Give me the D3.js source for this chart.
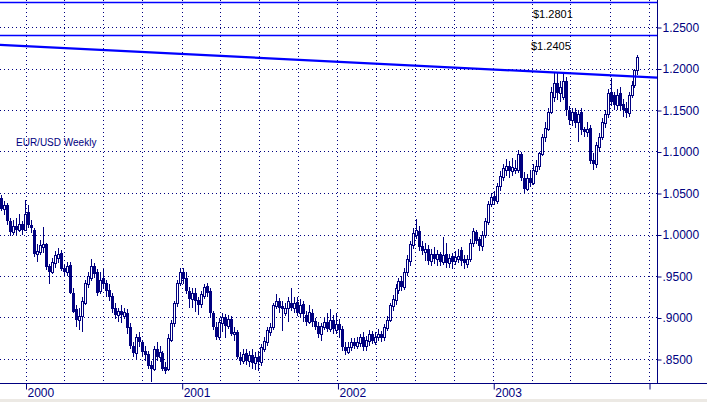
<!DOCTYPE html>
<html><head><meta charset="utf-8">
<script src="https://cdn.jsdelivr.net/npm/d3@7"></script>
<style>
html,body{margin:0;padding:0;background:#fff;}
svg{display:block;}
text{font-family:"Liberation Sans",Arial,sans-serif;}
</style></head>
<body>
<svg id="chart" width="707" height="402"></svg>
<script>
// ---- data (EUR/USD weekly, first week ending 1999-11-05) ----
const firstWeek = "1999-11-05";
const open = [
1.044,1.031,1.036,1.016,1.003,1.010,1.005,1.013,1.006,1.027,1.012,1.006,0.977,0.979,0.985,0.988,0.962,0.955,0.966,0.972,
0.978,0.960,0.955,0.963,0.930,0.910,0.897,0.902,0.918,0.940,0.948,0.962,0.955,0.932,0.948,0.942,0.933,0.926,0.912,0.903,
0.908,0.902,0.906,0.888,0.866,0.857,0.877,0.870,0.860,0.856,0.843,0.838,0.862,0.852,0.857,0.840,0.838,0.873,0.893,0.917,
0.942,0.955,0.948,0.932,0.922,0.930,0.921,0.916,0.926,0.938,0.932,0.905,0.889,0.877,0.893,0.900,0.890,0.898,0.880,0.882,
0.853,0.848,0.857,0.847,0.855,0.845,0.852,0.846,0.862,0.870,0.883,0.888,0.914,0.920,0.914,0.906,0.911,0.918,0.912,0.919,
0.906,0.916,0.903,0.895,0.905,0.896,0.890,0.880,0.889,0.895,0.886,0.897,0.885,0.892,0.886,0.865,0.859,0.864,0.870,0.866,
0.869,0.877,0.866,0.872,0.880,0.871,0.876,0.880,0.876,0.887,0.897,0.914,0.921,0.933,0.944,0.937,0.955,0.968,0.987,1.000,
1.004,0.986,0.979,0.983,0.968,0.977,0.970,0.976,0.967,0.976,0.966,0.974,0.968,0.971,0.981,0.970,0.965,0.970,0.990,1.003,
0.994,0.986,1.000,1.015,1.037,1.046,1.040,1.058,1.069,1.078,1.082,1.076,1.078,1.078,1.097,1.068,1.055,1.068,1.062,1.076,
1.082,1.097,1.118,1.127,1.148,1.166,1.182,1.170,1.166,1.185,1.150,1.138,1.148,1.135,1.148,1.127,1.124,1.128,1.090,1.085,
1.106,1.118,1.134,1.145,1.172,1.168,1.156,1.170,1.157,1.153,1.146,1.168,1.180,1.198];
const high = [
1.047,1.040,1.038,1.020,1.018,1.020,1.025,1.016,1.041,1.036,1.018,1.008,0.988,0.993,1.009,0.990,0.965,0.972,0.980,0.984,
0.981,0.965,0.967,0.967,0.935,0.915,0.912,0.925,0.945,0.955,0.970,0.966,0.958,0.955,0.960,0.945,0.940,0.930,0.918,0.912,
0.915,0.912,0.910,0.893,0.870,0.880,0.882,0.873,0.866,0.860,0.848,0.866,0.870,0.866,0.860,0.846,0.880,0.897,0.920,0.945,
0.960,0.960,0.955,0.937,0.935,0.935,0.925,0.932,0.940,0.942,0.935,0.908,0.894,0.900,0.905,0.904,0.903,0.902,0.888,0.885,
0.858,0.862,0.862,0.860,0.862,0.858,0.860,0.868,0.876,0.888,0.893,0.918,0.928,0.924,0.920,0.918,0.925,0.935,0.925,0.925,
0.922,0.920,0.908,0.915,0.910,0.900,0.895,0.893,0.900,0.905,0.910,0.903,0.906,0.898,0.890,0.870,0.870,0.875,0.875,0.876,
0.880,0.882,0.878,0.885,0.884,0.882,0.886,0.884,0.892,0.902,0.918,0.927,0.940,0.948,0.950,0.960,0.975,0.992,1.008,1.019,
1.010,0.992,0.990,0.987,0.982,0.985,0.981,0.979,0.997,0.990,0.977,0.978,0.980,0.983,0.985,0.975,0.975,0.994,1.008,1.006,
0.997,1.004,1.020,1.040,1.050,1.052,1.062,1.076,1.085,1.091,1.088,1.092,1.090,1.102,1.099,1.075,1.073,1.078,1.085,1.090,
1.100,1.121,1.135,1.152,1.178,1.195,1.194,1.185,1.193,1.190,1.155,1.152,1.152,1.150,1.152,1.130,1.135,1.132,1.098,1.112,
1.122,1.140,1.150,1.175,1.188,1.172,1.175,1.178,1.163,1.160,1.172,1.185,1.200,1.216];
const low = [
1.028,1.024,1.012,0.998,1.000,1.000,1.003,1.000,1.004,1.008,1.002,0.973,0.967,0.975,0.978,0.957,0.940,0.952,0.960,0.966,
0.956,0.950,0.950,0.928,0.905,0.888,0.885,0.883,0.915,0.935,0.944,0.948,0.926,0.928,0.935,0.925,0.920,0.905,0.898,0.895,
0.893,0.898,0.880,0.862,0.852,0.850,0.865,0.852,0.848,0.838,0.822,0.835,0.847,0.846,0.835,0.832,0.836,0.870,0.888,0.913,
0.938,0.940,0.928,0.911,0.912,0.907,0.903,0.912,0.922,0.925,0.900,0.885,0.873,0.873,0.882,0.875,0.886,0.878,0.872,0.850,
0.843,0.844,0.843,0.840,0.838,0.837,0.835,0.842,0.858,0.866,0.878,0.885,0.910,0.905,0.884,0.902,0.895,0.908,0.905,0.902,
0.900,0.895,0.890,0.892,0.888,0.885,0.875,0.872,0.885,0.882,0.882,0.880,0.880,0.875,0.860,0.855,0.856,0.860,0.862,0.862,
0.864,0.860,0.860,0.866,0.868,0.867,0.872,0.870,0.872,0.884,0.894,0.908,0.915,0.928,0.932,0.933,0.950,0.962,0.983,0.995,
0.980,0.975,0.968,0.963,0.962,0.965,0.962,0.962,0.963,0.960,0.960,0.958,0.963,0.966,0.962,0.958,0.960,0.967,0.985,0.988,
0.980,0.980,0.996,1.012,1.033,1.035,1.037,1.053,1.065,1.070,1.068,1.070,1.073,1.074,1.064,1.050,1.052,1.057,1.060,1.072,
1.078,1.094,1.112,1.125,1.145,1.160,1.162,1.160,1.162,1.143,1.132,1.131,1.128,1.112,1.120,1.118,1.118,1.085,1.078,1.080,
1.100,1.114,1.128,1.140,1.155,1.150,1.150,1.150,1.141,1.140,1.142,1.165,1.176,1.192];
const close = [
1.031,1.036,1.016,1.003,1.010,1.005,1.013,1.006,1.025,1.012,1.008,0.977,0.980,0.987,0.988,0.961,0.955,0.967,0.975,0.977,
0.958,0.955,0.962,0.930,0.907,0.897,0.902,0.920,0.942,0.950,0.962,0.953,0.930,0.945,0.940,0.932,0.925,0.910,0.903,0.908,
0.903,0.907,0.887,0.866,0.857,0.876,0.870,0.858,0.855,0.842,0.838,0.862,0.852,0.858,0.838,0.836,0.875,0.893,0.917,0.941,
0.955,0.946,0.932,0.922,0.930,0.920,0.915,0.928,0.937,0.930,0.905,0.888,0.877,0.895,0.900,0.890,0.898,0.880,0.883,0.853,
0.848,0.856,0.847,0.855,0.845,0.852,0.846,0.865,0.872,0.885,0.888,0.915,0.920,0.911,0.910,0.912,0.920,0.912,0.918,0.906,
0.915,0.904,0.895,0.907,0.895,0.888,0.880,0.890,0.895,0.886,0.897,0.886,0.892,0.885,0.864,0.860,0.865,0.870,0.866,0.871,
0.876,0.865,0.873,0.880,0.872,0.876,0.880,0.875,0.888,0.897,0.915,0.922,0.935,0.944,0.937,0.955,0.970,0.988,1.002,1.005,
0.985,0.980,0.982,0.968,0.977,0.970,0.976,0.967,0.975,0.966,0.972,0.967,0.973,0.974,0.968,0.966,0.970,0.990,1.004,0.992,
0.986,1.000,1.016,1.037,1.045,1.040,1.058,1.070,1.080,1.082,1.076,1.081,1.080,1.097,1.068,1.055,1.068,1.062,1.078,1.082,
1.098,1.118,1.128,1.148,1.172,1.182,1.170,1.178,1.185,1.150,1.138,1.148,1.134,1.145,1.126,1.124,1.127,1.089,1.085,1.108,
1.118,1.135,1.145,1.170,1.160,1.156,1.168,1.155,1.150,1.146,1.168,1.180,1.198,1.214];

const yTickValues = [0.85,0.90,0.95,1.00,1.05,1.10,1.15,1.20,1.25];
const yTickLabels = [".8500",".9000",".9500","1.0000","1.0500","1.1000","1.1500","1.2000","1.2500"];
const yearTicks = ["2000-01-01","2001-01-01","2002-01-01","2003-01-01","2004-01-01"];
const yearLabels = ["2000","2001","2002","2003"];
const levelValues = [1.2801, 1.2405];
const levelLabels = ["$1.2801", "$1.2405"];
const trendDates = ["1999-11-01", "2004-01-20"];
const trendValues = [1.2285, 1.1890];
const chartTitle = "EUR/USD Weekly";

// ---- rendering ----
const navy = "#000080", blue = "#0000ff";
const svg = d3.select("#chart");
const W = 707, H = 402, axisX = 657.5, axisY = 383.5;
const parse = d3.utcParse("%Y-%m-%d");
const x = d3.scaleUtc().domain([parse("2000-01-01"), parse("2004-01-01")]).range([25.5, 649]);
const y = d3.scaleLinear().domain([0.85, 1.25]).range([359, 27]);

const start = parse(firstWeek);
const data = close.map((c, i) => ({
  date: d3.utcDay.offset(start, 7 * i), o: open[i], h: high[i], l: low[i], c
}));

svg.append("rect").attr("width", W).attr("height", H).attr("fill", "#fff");
svg.append("rect").attr("x", 0).attr("y", 399).attr("width", W).attr("height", 3).attr("fill", "#ece9e4");

svg.append("defs").append("clipPath").attr("id", "plot")
  .append("rect").attr("x", 0).attr("y", 0).attr("width", axisX).attr("height", axisY);

// grid
const grid = svg.append("g").attr("stroke", navy).attr("stroke-width", 1)
  .attr("stroke-dasharray", "1,3").attr("shape-rendering", "crispEdges");
grid.selectAll("line.h").data(yTickValues).join("line").attr("class", "h")
  .attr("x1", 0).attr("x2", axisX).attr("y1", d => Math.round(y(d)) + 0.5).attr("y2", d => Math.round(y(d)) + 0.5);
const quarters = d3.utcMonth.every(3).range(parse("1999-10-01"), parse("2004-02-01"));
grid.selectAll("line.v").data(quarters.filter(d => x(d) >= 0 && x(d) < axisX)).join("line").attr("class", "v")
  .attr("y1", 0).attr("y2", axisY).attr("x1", d => Math.round(x(d)) + 0.5).attr("x2", d => Math.round(x(d)) + 0.5);

// horizontal levels
svg.append("g").selectAll("line").data(levelValues).join("line")
  .attr("x1", 0).attr("x2", axisX).attr("y1", d => Math.round(y(d)) + 0.5).attr("y2", d => Math.round(y(d)) + 0.5)
  .attr("stroke", blue).attr("stroke-width", 1.3);
svg.append("g").selectAll("text").data(levelValues).join("text")
  .attr("x", (d, i) => i === 0 ? 533 : 531).attr("y", d => y(d) + 15.5)
  .attr("font-size", "11px").attr("fill", "#000").text((d, i) => levelLabels[i]);

// candles
const cg = svg.append("g").attr("clip-path", "url(#plot)").attr("shape-rendering", "crispEdges");
cg.selectAll("line").data(data).join("line")
  .attr("x1", d => Math.round(x(d.date)) + 0.5).attr("x2", d => Math.round(x(d.date)) + 0.5)
  .attr("y1", d => y(d.h)).attr("y2", d => y(d.l)).attr("stroke", navy).attr("stroke-width", 1.2);
cg.selectAll("rect").data(data).join("rect")
  .attr("x", d => d.c >= d.o ? Math.round(x(d.date)) - 0.5 : Math.round(x(d.date)) - 1)
  .attr("width", d => d.c >= d.o ? 2 : 3)
  .attr("y", d => d.c >= d.o ? Math.round(y(d.c)) + 0.5 : Math.round(y(d.o)))
  .attr("height", d => Math.max(1, Math.abs(Math.round(y(d.o)) - Math.round(y(d.c)))))
  .attr("fill", d => d.c >= d.o ? "#fff" : navy)
  .attr("stroke", d => d.c >= d.o ? navy : "none").attr("stroke-width", 1);

// trend line
svg.append("line").attr("clip-path", "url(#plot)")
  .attr("x1", x(parse(trendDates[0]))).attr("y1", y(trendValues[0]))
  .attr("x2", x(parse(trendDates[1]))).attr("y2", y(trendValues[1]))
  .attr("stroke", blue).attr("stroke-width", 2.2);

// axes
svg.append("line").attr("x1", axisX).attr("x2", axisX).attr("y1", 0).attr("y2", axisY).attr("stroke", navy).attr("stroke-width", 1);
svg.append("line").attr("x1", 0).attr("x2", W).attr("y1", axisY).attr("y2", axisY).attr("stroke", navy).attr("stroke-width", 1);

const yAxis = d3.axisRight(y).tickValues(yTickValues).tickSize(4).tickPadding(1)
  .tickFormat((d, i) => yTickLabels[i]);
const ya = svg.append("g").attr("transform", `translate(${axisX},0.5)`).call(yAxis);
ya.select(".domain").remove();
ya.selectAll(".tick line").attr("stroke", navy);
ya.selectAll(".tick text").attr("fill", navy).attr("font-size", "12px")
  .attr("font-family", "'Liberation Sans',Arial,sans-serif");

const xAxis = d3.axisBottom(x).tickValues(yearTicks.map(parse)).tickSize(6).tickFormat("");
const xa = svg.append("g").attr("transform", `translate(0.5,${axisY})`).call(xAxis);
xa.select(".domain").remove();
xa.selectAll(".tick line").attr("stroke", navy);
svg.append("g").selectAll("text").data(yearLabels).join("text")
  .attr("x", (d, i) => x(parse(yearTicks[i])) + 2).attr("y", 397)
  .attr("font-size", "12px").attr("fill", navy).text(d => d);

svg.append("text").attr("x", 16).attr("y", 146).attr("font-size", "10px").attr("fill", navy).text(chartTitle);
</script>
</body></html>
